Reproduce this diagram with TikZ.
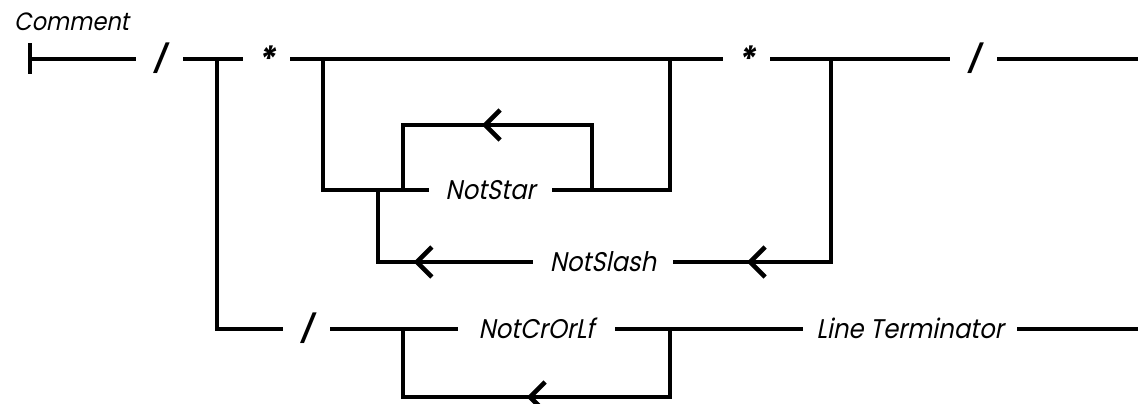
\documentclass[tikz,border=0pt]{standalone}
\usepackage{fontspec}
\newfontfamily\dfont{Poppins}[FakeSlant=0.2,FakeStretch=0.9]
\usetikzlibrary{decorations.markings}
\begin{document}
\begin{tikzpicture}[x=1pt,y=-1pt,
  rr/.style={line width=4.6pt},
  term/.style={inner sep=0pt, text height=19pt, text depth=0pt,
    font=\dfont\fontsize{27pt}{30pt}\selectfont},
  sym/.style={term, minimum width=47pt, font=\dfont\bfseries\fontsize{27pt}{30pt}\selectfont},
  larr/.style={postaction={decorate,decoration={markings,
    mark=at position #1 with {\draw[line width=4.6pt] (-15pt,15pt) -- (0pt,0pt) -- (-15pt,-15pt);}}}}
]
\useasboundingbox (0,0) rectangle (1138,404);
% title
\node[anchor=base west, inner sep=0pt, font=\dfont\fontsize{25pt}{28pt}\selectfont] (cm) at (14,31) {Comment};
% main line terminals
\coordinate (st) at (30,59);
\node[sym] (sl1) at (159.5,59) {/};
\node[sym] (sa1) at (266.5,59) {\fontsize{36pt}{36pt}\selectfont\raisebox{-4pt}{*}};
\node[sym] (sa2) at (746.5,59) {\fontsize{36pt}{36pt}\selectfont\raisebox{-4pt}{*}};
\node[sym] (sl2) at (973.5,59) {/};
\coordinate (end1) at (1138,59);
% junctions
\coordinate (j1) at (217,59);
\coordinate (j2) at (323,59);
\coordinate (j3) at (670,59);
\coordinate (j4) at (831,59);
\coordinate (j5) at (378,190);
\coordinate (a) at (592,190);
\coordinate (b) at (403,190);
% other terminals
\node[term, minimum width=123pt] (ns) at (490.5,190) {NotStar};
\node[term, minimum width=140pt] (nsl) at (603,262) {NotSlash};
\node[sym] (sl3) at (306.5,329) {/};
\node[term, minimum width=157pt] (ncl) at (536.5,329) {NotCrOrLf};
\node[term, minimum width=214pt] (lt) at (910,329) {Line Terminator};
\coordinate (end2) at (1138,329);
\coordinate (c) at (670,329);
\coordinate (d) at (403,329);
% start bar
\draw[rr] ([yshift=15.5pt]st) -- ([yshift=-15.5pt]st);
% main line
\draw[rr] (st) -- (sl1.west);
\draw[rr] (sl1.east) -- (sa1.west);
\draw[rr] (sa1.east) -- (sa2.west);
\draw[rr] (sa2.east) -- (sl2.west);
\draw[rr] (sl2.east) -- (end1);
% block comment body
\draw[rr] (j2) |- (ns.west);
\draw[rr] (ns.east) -| (j3);
\draw[rr, larr=172pt] (a) -- ++(0,-65) -| (b);
\draw[rr, larr=284pt] (j4) |- (nsl.east);
\draw[rr, larr=116pt] (nsl.west) -| (j5);
% line comment
\draw[rr] (j1) |- (sl3.west);
\draw[rr] (sl3.east) -- (ncl.west);
\draw[rr] (ncl.east) -- (lt.west);
\draw[rr] (lt.east) -- (end2);
\draw[rr, larr=208pt] (c) -- ++(0,68) -| (d);
\end{tikzpicture}
\end{document}
